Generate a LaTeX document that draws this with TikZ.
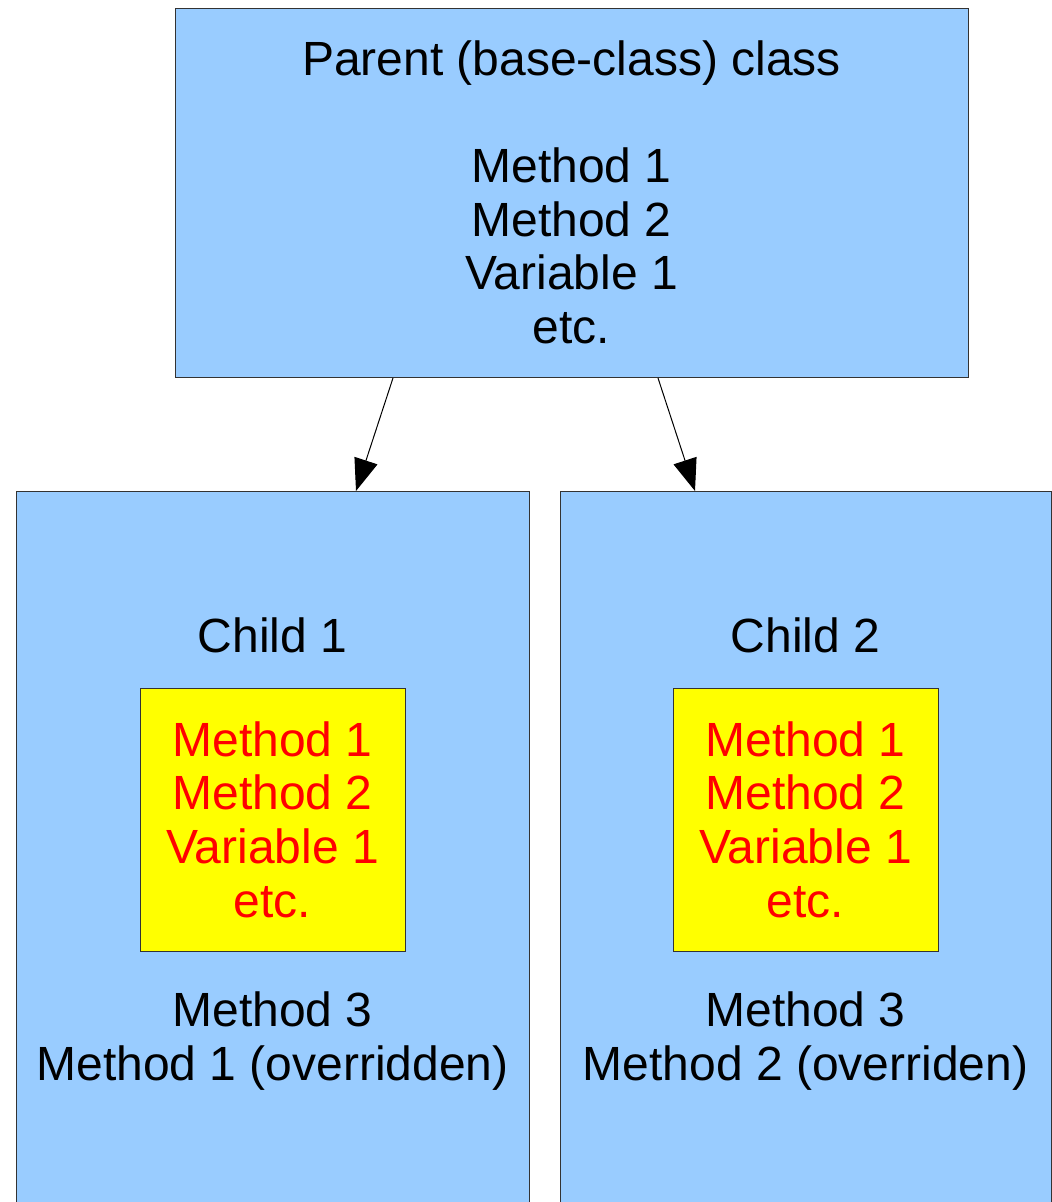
\documentclass[tikz,border=0pt]{standalone}
\usepackage{fontspec}
\setmainfont{Liberation Sans}
\usetikzlibrary{arrows.meta}
\definecolor{boxblue}{HTML}{99CCFF}
\definecolor{boxyellow}{HTML}{FFFF00}
\definecolor{boxred}{HTML}{FF0000}
\definecolor{edge}{HTML}{333333}
\begin{document}
\begin{tikzpicture}[x=1pt,y=-1pt,
  classbox/.style={draw=edge,line width=1pt,fill=boxblue,inner sep=0pt,anchor=north west},
  innerbox/.style={draw=edge,line width=1pt,fill=boxyellow,inner sep=0pt,anchor=north west},
  txt/.style={anchor=base,inner sep=0pt,font=\fontsize{48}{54}\selectfont},
  rtxt/.style={txt,text=boxred},
  link/.style={draw=black,line width=1pt,-{Triangle[length=32pt,width=24pt]}}]
\useasboundingbox (0,0) rectangle (1052,1202);
\clip (0,0) rectangle (1052,1202);
% boxes
\node[classbox,minimum width=793pt,minimum height=369pt] (parent) at (175,8) {};
\node[classbox,minimum width=513pt,minimum height=730pt] (child1) at (16,491) {};
\node[classbox,minimum width=491pt,minimum height=730pt] (child2) at (560,491) {};
\node[innerbox,minimum width=265pt,minimum height=263pt] (y1) at (140,688) {};
\node[innerbox,minimum width=265pt,minimum height=263pt] (y2) at (673,688) {};
% parent text
\node[txt] (pt) at (571.5,75) {Parent (base-class) class};
\node[txt] (pm1) at (571.5,182) {Method 1};
\node[txt] (pm2) at (571.5,236) {Method 2};
\node[txt] (pv1) at (571.5,289) {Variable 1};
\node[txt] (pe) at (571.5,343) {etc.};
% child 1 text
\node[txt] (c1t) at (272.5,652) {Child 1};
\node[rtxt] (c1m1) at (272.5,756) {Method 1};
\node[rtxt] (c1m2) at (272.5,809) {Method 2};
\node[rtxt] (c1v1) at (272.5,863) {Variable 1};
\node[rtxt] (c1e) at (272.5,917) {etc.};
\node[txt] (c1m3) at (272.5,1026) {Method 3};
\node[txt] (c1o) at (272.5,1080) {Method 1 (overridden)};
% child 2 text
\node[txt] (c2t) at (805.5,652) {Child 2};
\node[rtxt] (c2m1) at (805.5,756) {Method 1};
\node[rtxt] (c2m2) at (805.5,809) {Method 2};
\node[rtxt] (c2v1) at (805.5,863) {Variable 1};
\node[rtxt] (c2e) at (805.5,917) {etc.};
\node[txt] (c2m3) at (805.5,1026) {Method 3};
\node[txt] (c2o) at (805.5,1080) {Method 2 (overriden)};
% connectors
\draw[link] ([xshift=218pt]parent.south west) -- ([xshift=340pt]child1.north west);
\draw[link] ([xshift=483pt]parent.south west) -- ([xshift=135pt]child2.north west);
\end{tikzpicture}
\end{document}
